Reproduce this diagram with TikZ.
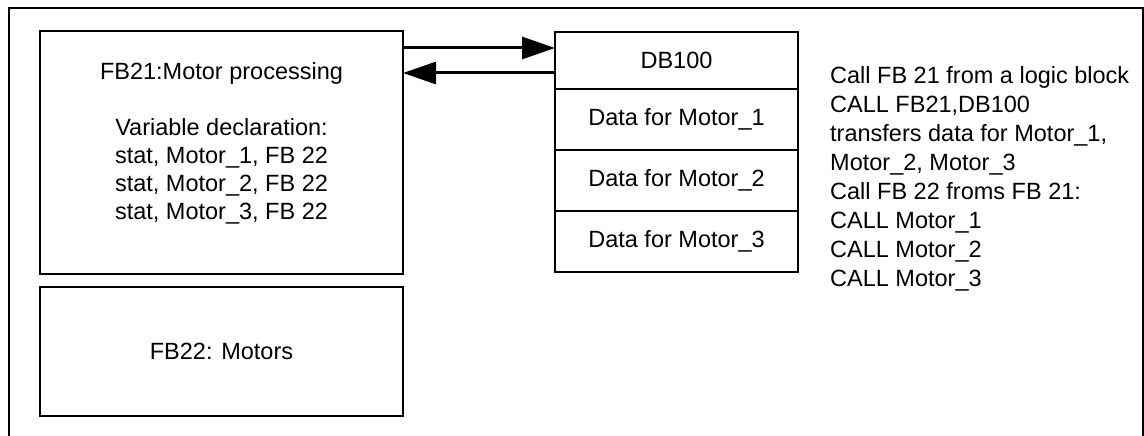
\documentclass[tikz,border=0pt]{standalone}
\usepackage{fontspec}
\setmainfont{Liberation Sans}
\usetikzlibrary{positioning,arrows.meta}

\tikzset{
	blockbox/.style={draw, line width=2pt, minimum width=363pt, align=center, inner sep=0pt, outer sep=0pt},
	cellbox/.style={draw, line width=1.6pt, minimum width=243pt, minimum height=61pt, inner sep=0pt, outer sep=0pt},
	flow/.style={line width=3pt, -{Triangle[length=33pt,width=22pt]}},
}

\begin{document}
\begin{tikzpicture}[x=1pt, y=-1pt, font=\fontsize{23.5}{28}\selectfont]
	\useasboundingbox (0,0) rectangle (1144,436);
	\draw[line width=2pt] (9,436) -- (9,8) -- (1143,8) -- (1143,436);
	\node[blockbox, minimum height=243pt] (fb21) at (221.5,152.5) {};
	\node[align=center] (fb21txt) at ([yshift=9pt]fb21.center) {FB21:Motor processing\\[28pt]
		Variable declaration:\\ stat, Motor\_1, FB 22\\ stat, Motor\_2, FB 22\\ stat, Motor\_3, FB 22};
	\node[blockbox, minimum height=129pt] (fb22) at (221.5,351.5) {FB22: Motors};
	\node[cellbox, minimum height=57pt] (db100) at (676.5,60.5) {DB100};
	\node[cellbox, below=0pt of db100] (dm1) {Data for Motor\_1};
	\node[cellbox, below=0pt of dm1] (dm2) {Data for Motor\_2};
	\node[cellbox, below=0pt of dm2] (dm3) {Data for Motor\_3};
	\path (fb21.north east) ++(0,17) coordinate (callout);
	\path (fb21.north east) ++(0,42) coordinate (callback);
	\draw[flow] (callout) -- (callout -| db100.west);
	\draw[flow] (callback -| db100.west) -- (callback);
	\node[align=left, anchor=north west, inner sep=0pt, font=\fontsize{23.5}{29}\selectfont] (calls) at (830,66) {Call FB 21 from a logic block\\
		CALL FB21,DB100\\ transfers data for Motor\_1,\\ Motor\_2, Motor\_3\\ Call FB 22 froms FB 21:\\
		CALL Motor\_1\\ CALL Motor\_2\\ CALL Motor\_3};
\end{tikzpicture}
\end{document}
